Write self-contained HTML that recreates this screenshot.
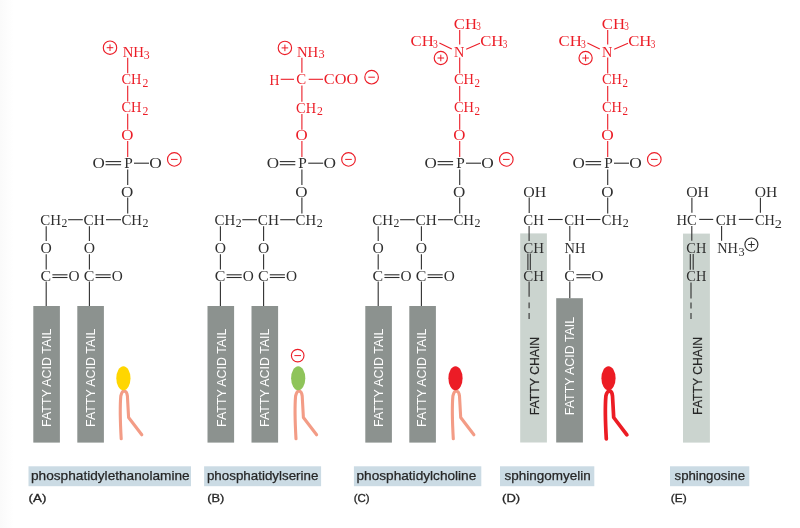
<!DOCTYPE html>
<html><head><meta charset="utf-8"><style>
html,body{margin:0;padding:0;background:#ffffff;}
svg{display:block;will-change:transform;}
</style></head><body>
<svg width="800" height="528" viewBox="0 0 800 528">
<defs><linearGradient id="lg" x1="0" x2="1" y1="0" y2="0"><stop offset="0" stop-color="#fafafa"/><stop offset="1" stop-color="#ffffff"/></linearGradient></defs>
<rect x="0" y="0" width="800" height="528" fill="#ffffff"/>
<rect x="0" y="0" width="14" height="528" fill="url(#lg)"/>
<circle cx="110.00" cy="47.70" r="6.7" fill="none" stroke="#ec1d27" stroke-width="1.15"/>
<line x1="106.70" y1="47.70" x2="113.30" y2="47.70" stroke="#ec1d27" stroke-width="1.0"/>
<line x1="110.00" y1="44.40" x2="110.00" y2="51.00" stroke="#ec1d27" stroke-width="1.0"/>
<text x="122.67" y="56.80" font-family="Liberation Serif" font-size="14.97" fill="#ec1d27" textLength="21.36" lengthAdjust="spacingAndGlyphs" stroke="#fff" stroke-width="0">NH</text>
<text x="143.73" y="58.50" font-family="Liberation Serif" font-size="11.48" fill="#ec1d27" textLength="5.93" lengthAdjust="spacingAndGlyphs" stroke="#fff" stroke-width="0">3</text>
<line x1="127.70" y1="57.70" x2="127.70" y2="73.30" stroke="#ec1d27" stroke-width="1.1"/>
<text x="121.51" y="84.20" font-family="Liberation Serif" font-size="14.97" fill="#ec1d27" textLength="20.01" lengthAdjust="spacingAndGlyphs" stroke="#fff" stroke-width="0">CH</text>
<text x="142.48" y="87.00" font-family="Liberation Serif" font-size="11.48" fill="#ec1d27" textLength="5.86" lengthAdjust="spacingAndGlyphs" stroke="#fff" stroke-width="0">2</text>
<line x1="127.70" y1="85.80" x2="127.70" y2="101.50" stroke="#ec1d27" stroke-width="1.1"/>
<text x="121.51" y="112.20" font-family="Liberation Serif" font-size="14.97" fill="#ec1d27" textLength="20.01" lengthAdjust="spacingAndGlyphs" stroke="#fff" stroke-width="0">CH</text>
<text x="142.48" y="115.00" font-family="Liberation Serif" font-size="11.48" fill="#ec1d27" textLength="5.86" lengthAdjust="spacingAndGlyphs" stroke="#fff" stroke-width="0">2</text>
<line x1="127.70" y1="113.80" x2="127.70" y2="129.80" stroke="#ec1d27" stroke-width="1.1"/>
<text x="121.21" y="140.40" font-family="Liberation Serif" font-size="14.97" fill="#ec1d27" textLength="12.18" lengthAdjust="spacingAndGlyphs" stroke="#fff" stroke-width="0">O</text>
<line x1="127.70" y1="141.00" x2="127.70" y2="157.00" stroke="#ec1d27" stroke-width="1.1"/>
<text x="92.60" y="167.90" font-family="Liberation Serif" font-size="14.97" fill="#2f2f2f" textLength="12.30" lengthAdjust="spacingAndGlyphs" stroke="#fff" stroke-width="0">O</text>
<line x1="105.60" y1="161.60" x2="121.10" y2="161.60" stroke="#2f2f2f" stroke-width="1.1"/>
<line x1="105.60" y1="164.70" x2="121.10" y2="164.70" stroke="#2f2f2f" stroke-width="1.1"/>
<text x="124.16" y="168.10" font-family="Liberation Serif" font-size="14.97" fill="#2f2f2f" textLength="8.56" lengthAdjust="spacingAndGlyphs" stroke="#fff" stroke-width="0">P</text>
<line x1="134.00" y1="163.20" x2="149.00" y2="163.20" stroke="#2f2f2f" stroke-width="1.1"/>
<text x="149.29" y="167.90" font-family="Liberation Serif" font-size="14.97" fill="#2f2f2f" textLength="12.52" lengthAdjust="spacingAndGlyphs" stroke="#fff" stroke-width="0">O</text>
<circle cx="174.30" cy="159.40" r="6.8" fill="none" stroke="#ec1d27" stroke-width="1.15"/>
<line x1="171.00" y1="159.40" x2="177.60" y2="159.40" stroke="#ec1d27" stroke-width="1.0"/>
<line x1="127.70" y1="169.40" x2="127.70" y2="185.00" stroke="#2f2f2f" stroke-width="1.1"/>
<text x="121.00" y="196.50" font-family="Liberation Serif" font-size="14.97" fill="#2f2f2f" textLength="12.30" lengthAdjust="spacingAndGlyphs" stroke="#fff" stroke-width="0">O</text>
<line x1="127.70" y1="197.60" x2="127.70" y2="213.50" stroke="#2f2f2f" stroke-width="1.1"/>
<text x="40.29" y="224.80" font-family="Liberation Serif" font-size="14.97" fill="#2f2f2f" textLength="20.75" lengthAdjust="spacingAndGlyphs" stroke="#fff" stroke-width="0">CH</text>
<text x="61.48" y="226.80" font-family="Liberation Serif" font-size="11.48" fill="#2f2f2f" textLength="5.86" lengthAdjust="spacingAndGlyphs" stroke="#fff" stroke-width="0">2</text>
<line x1="68.10" y1="219.70" x2="82.80" y2="219.70" stroke="#2f2f2f" stroke-width="1.1"/>
<text x="83.57" y="224.80" font-family="Liberation Serif" font-size="14.97" fill="#2f2f2f" textLength="21.17" lengthAdjust="spacingAndGlyphs" stroke="#fff" stroke-width="0">CH</text>
<line x1="106.00" y1="219.70" x2="121.00" y2="219.70" stroke="#2f2f2f" stroke-width="1.1"/>
<text x="121.39" y="224.80" font-family="Liberation Serif" font-size="14.97" fill="#2f2f2f" textLength="20.54" lengthAdjust="spacingAndGlyphs" stroke="#fff" stroke-width="0">CH</text>
<text x="142.47" y="226.80" font-family="Liberation Serif" font-size="11.48" fill="#2f2f2f" textLength="5.99" lengthAdjust="spacingAndGlyphs" stroke="#fff" stroke-width="0">2</text>
<line x1="46.20" y1="226.30" x2="46.20" y2="241.00" stroke="#2f2f2f" stroke-width="1.1"/>
<text x="40.56" y="252.80" font-family="Liberation Serif" font-size="14.97" fill="#2f2f2f" textLength="11.28" lengthAdjust="spacingAndGlyphs" stroke="#fff" stroke-width="0">O</text>
<line x1="46.20" y1="254.20" x2="46.20" y2="269.50" stroke="#2f2f2f" stroke-width="1.1"/>
<text x="40.55" y="280.90" font-family="Liberation Serif" font-size="14.97" fill="#2f2f2f" textLength="10.63" lengthAdjust="spacingAndGlyphs" stroke="#fff" stroke-width="0">C</text>
<line x1="52.40" y1="274.80" x2="67.50" y2="274.80" stroke="#2f2f2f" stroke-width="1.1"/>
<line x1="52.40" y1="277.50" x2="67.50" y2="277.50" stroke="#2f2f2f" stroke-width="1.1"/>
<text x="68.57" y="280.80" font-family="Liberation Serif" font-size="14.97" fill="#2f2f2f" textLength="11.06" lengthAdjust="spacingAndGlyphs" stroke="#fff" stroke-width="0">O</text>
<line x1="46.20" y1="281.60" x2="46.20" y2="306.50" stroke="#2f2f2f" stroke-width="1.1"/>
<line x1="89.40" y1="226.30" x2="89.40" y2="241.00" stroke="#2f2f2f" stroke-width="1.1"/>
<text x="83.76" y="252.80" font-family="Liberation Serif" font-size="14.97" fill="#2f2f2f" textLength="11.28" lengthAdjust="spacingAndGlyphs" stroke="#fff" stroke-width="0">O</text>
<line x1="89.40" y1="254.20" x2="89.40" y2="269.50" stroke="#2f2f2f" stroke-width="1.1"/>
<text x="83.75" y="280.90" font-family="Liberation Serif" font-size="14.97" fill="#2f2f2f" textLength="10.63" lengthAdjust="spacingAndGlyphs" stroke="#fff" stroke-width="0">C</text>
<line x1="95.60" y1="274.80" x2="110.70" y2="274.80" stroke="#2f2f2f" stroke-width="1.1"/>
<line x1="95.60" y1="277.50" x2="110.70" y2="277.50" stroke="#2f2f2f" stroke-width="1.1"/>
<text x="111.77" y="280.80" font-family="Liberation Serif" font-size="14.97" fill="#2f2f2f" textLength="11.06" lengthAdjust="spacingAndGlyphs" stroke="#fff" stroke-width="0">O</text>
<line x1="89.40" y1="281.60" x2="89.40" y2="306.50" stroke="#2f2f2f" stroke-width="1.1"/>
<rect x="33.30" y="306.00" width="26.60" height="136.60" fill="#8c928f"/>
<text transform="translate(51.40,426.88) rotate(-90)" x="0" y="0" font-family="Liberation Sans" font-size="12.94" fill="#ffffff" stroke="#ffffff" stroke-width="0" textLength="98.28" lengthAdjust="spacingAndGlyphs">FATTY ACID TAIL</text>
<rect x="77.30" y="306.00" width="26.60" height="136.60" fill="#8c928f"/>
<text transform="translate(95.00,426.88) rotate(-90)" x="0" y="0" font-family="Liberation Sans" font-size="12.94" fill="#ffffff" stroke="#ffffff" stroke-width="0" textLength="98.28" lengthAdjust="spacingAndGlyphs">FATTY ACID TAIL</text>
<path d="M121.20,438.8 C120.40,425 120.00,405 120.80,396 Q122.20,390.6 124.40,390.9 Q127.00,391.4 127.40,396 L128.60,417.5 L141.80,434.8" fill="none" stroke="#f39c86" stroke-width="3.1" stroke-linecap="round" stroke-linejoin="round"/>
<ellipse cx="123.40" cy="378.30" rx="7.1" ry="12.0" fill="#ffd600"/>
<circle cx="284.90" cy="47.90" r="6.7" fill="none" stroke="#ec1d27" stroke-width="1.15"/>
<line x1="281.60" y1="47.90" x2="288.20" y2="47.90" stroke="#ec1d27" stroke-width="1.0"/>
<line x1="284.90" y1="44.60" x2="284.90" y2="51.20" stroke="#ec1d27" stroke-width="1.0"/>
<text x="296.98" y="56.70" font-family="Liberation Serif" font-size="14.97" fill="#ec1d27" textLength="21.26" lengthAdjust="spacingAndGlyphs" stroke="#fff" stroke-width="0">NH</text>
<text x="318.41" y="58.30" font-family="Liberation Serif" font-size="11.48" fill="#ec1d27" textLength="6.17" lengthAdjust="spacingAndGlyphs" stroke="#fff" stroke-width="0">3</text>
<line x1="301.90" y1="57.70" x2="301.90" y2="72.80" stroke="#ec1d27" stroke-width="1.1"/>
<text x="269.41" y="84.60" font-family="Liberation Serif" font-size="14.97" fill="#ec1d27" textLength="9.90" lengthAdjust="spacingAndGlyphs" stroke="#fff" stroke-width="0">H</text>
<line x1="280.70" y1="79.30" x2="294.00" y2="79.30" stroke="#ec1d27" stroke-width="1.1"/>
<text x="296.19" y="84.40" font-family="Liberation Serif" font-size="14.97" fill="#ec1d27" textLength="9.93" lengthAdjust="spacingAndGlyphs" stroke="#fff" stroke-width="0">C</text>
<line x1="308.70" y1="79.30" x2="323.00" y2="79.30" stroke="#ec1d27" stroke-width="1.1"/>
<text x="323.83" y="84.20" font-family="Liberation Serif" font-size="14.97" fill="#ec1d27" textLength="34.33" lengthAdjust="spacingAndGlyphs" stroke="#fff" stroke-width="0">COO</text>
<circle cx="371.60" cy="77.20" r="6.8" fill="none" stroke="#ec1d27" stroke-width="1.15"/>
<line x1="368.30" y1="77.20" x2="374.90" y2="77.20" stroke="#ec1d27" stroke-width="1.0"/>
<line x1="301.90" y1="85.60" x2="301.90" y2="101.80" stroke="#ec1d27" stroke-width="1.1"/>
<text x="296.11" y="112.80" font-family="Liberation Serif" font-size="14.97" fill="#ec1d27" textLength="20.01" lengthAdjust="spacingAndGlyphs" stroke="#fff" stroke-width="0">CH</text>
<text x="317.08" y="115.00" font-family="Liberation Serif" font-size="11.48" fill="#ec1d27" textLength="5.86" lengthAdjust="spacingAndGlyphs" stroke="#fff" stroke-width="0">2</text>
<line x1="301.90" y1="114.00" x2="301.90" y2="129.80" stroke="#ec1d27" stroke-width="1.1"/>
<text x="295.41" y="140.40" font-family="Liberation Serif" font-size="14.97" fill="#ec1d27" textLength="12.18" lengthAdjust="spacingAndGlyphs" stroke="#fff" stroke-width="0">O</text>
<line x1="301.90" y1="141.00" x2="301.90" y2="157.00" stroke="#ec1d27" stroke-width="1.1"/>
<text x="266.80" y="167.90" font-family="Liberation Serif" font-size="14.97" fill="#2f2f2f" textLength="12.30" lengthAdjust="spacingAndGlyphs" stroke="#fff" stroke-width="0">O</text>
<line x1="279.80" y1="161.60" x2="295.30" y2="161.60" stroke="#2f2f2f" stroke-width="1.1"/>
<line x1="279.80" y1="164.70" x2="295.30" y2="164.70" stroke="#2f2f2f" stroke-width="1.1"/>
<text x="298.36" y="168.10" font-family="Liberation Serif" font-size="14.97" fill="#2f2f2f" textLength="8.56" lengthAdjust="spacingAndGlyphs" stroke="#fff" stroke-width="0">P</text>
<line x1="308.20" y1="163.20" x2="323.20" y2="163.20" stroke="#2f2f2f" stroke-width="1.1"/>
<text x="323.49" y="167.90" font-family="Liberation Serif" font-size="14.97" fill="#2f2f2f" textLength="12.52" lengthAdjust="spacingAndGlyphs" stroke="#fff" stroke-width="0">O</text>
<circle cx="348.50" cy="159.40" r="6.8" fill="none" stroke="#ec1d27" stroke-width="1.15"/>
<line x1="345.20" y1="159.40" x2="351.80" y2="159.40" stroke="#ec1d27" stroke-width="1.0"/>
<line x1="301.90" y1="169.40" x2="301.90" y2="185.00" stroke="#2f2f2f" stroke-width="1.1"/>
<text x="295.20" y="196.50" font-family="Liberation Serif" font-size="14.97" fill="#2f2f2f" textLength="12.30" lengthAdjust="spacingAndGlyphs" stroke="#fff" stroke-width="0">O</text>
<line x1="301.90" y1="197.60" x2="301.90" y2="213.50" stroke="#2f2f2f" stroke-width="1.1"/>
<text x="214.49" y="224.80" font-family="Liberation Serif" font-size="14.97" fill="#2f2f2f" textLength="20.75" lengthAdjust="spacingAndGlyphs" stroke="#fff" stroke-width="0">CH</text>
<text x="235.68" y="226.80" font-family="Liberation Serif" font-size="11.48" fill="#2f2f2f" textLength="5.86" lengthAdjust="spacingAndGlyphs" stroke="#fff" stroke-width="0">2</text>
<line x1="242.30" y1="219.70" x2="257.00" y2="219.70" stroke="#2f2f2f" stroke-width="1.1"/>
<text x="257.77" y="224.80" font-family="Liberation Serif" font-size="14.97" fill="#2f2f2f" textLength="21.17" lengthAdjust="spacingAndGlyphs" stroke="#fff" stroke-width="0">CH</text>
<line x1="280.20" y1="219.70" x2="295.20" y2="219.70" stroke="#2f2f2f" stroke-width="1.1"/>
<text x="295.59" y="224.80" font-family="Liberation Serif" font-size="14.97" fill="#2f2f2f" textLength="20.54" lengthAdjust="spacingAndGlyphs" stroke="#fff" stroke-width="0">CH</text>
<text x="316.67" y="226.80" font-family="Liberation Serif" font-size="11.48" fill="#2f2f2f" textLength="5.99" lengthAdjust="spacingAndGlyphs" stroke="#fff" stroke-width="0">2</text>
<line x1="220.40" y1="226.30" x2="220.40" y2="241.00" stroke="#2f2f2f" stroke-width="1.1"/>
<text x="214.76" y="252.80" font-family="Liberation Serif" font-size="14.97" fill="#2f2f2f" textLength="11.28" lengthAdjust="spacingAndGlyphs" stroke="#fff" stroke-width="0">O</text>
<line x1="220.40" y1="254.20" x2="220.40" y2="269.50" stroke="#2f2f2f" stroke-width="1.1"/>
<text x="214.75" y="280.90" font-family="Liberation Serif" font-size="14.97" fill="#2f2f2f" textLength="10.63" lengthAdjust="spacingAndGlyphs" stroke="#fff" stroke-width="0">C</text>
<line x1="226.60" y1="274.80" x2="241.70" y2="274.80" stroke="#2f2f2f" stroke-width="1.1"/>
<line x1="226.60" y1="277.50" x2="241.70" y2="277.50" stroke="#2f2f2f" stroke-width="1.1"/>
<text x="242.77" y="280.80" font-family="Liberation Serif" font-size="14.97" fill="#2f2f2f" textLength="11.06" lengthAdjust="spacingAndGlyphs" stroke="#fff" stroke-width="0">O</text>
<line x1="220.40" y1="281.60" x2="220.40" y2="306.50" stroke="#2f2f2f" stroke-width="1.1"/>
<line x1="263.60" y1="226.30" x2="263.60" y2="241.00" stroke="#2f2f2f" stroke-width="1.1"/>
<text x="257.96" y="252.80" font-family="Liberation Serif" font-size="14.97" fill="#2f2f2f" textLength="11.28" lengthAdjust="spacingAndGlyphs" stroke="#fff" stroke-width="0">O</text>
<line x1="263.60" y1="254.20" x2="263.60" y2="269.50" stroke="#2f2f2f" stroke-width="1.1"/>
<text x="257.95" y="280.90" font-family="Liberation Serif" font-size="14.97" fill="#2f2f2f" textLength="10.63" lengthAdjust="spacingAndGlyphs" stroke="#fff" stroke-width="0">C</text>
<line x1="269.80" y1="274.80" x2="284.90" y2="274.80" stroke="#2f2f2f" stroke-width="1.1"/>
<line x1="269.80" y1="277.50" x2="284.90" y2="277.50" stroke="#2f2f2f" stroke-width="1.1"/>
<text x="285.97" y="280.80" font-family="Liberation Serif" font-size="14.97" fill="#2f2f2f" textLength="11.06" lengthAdjust="spacingAndGlyphs" stroke="#fff" stroke-width="0">O</text>
<line x1="263.60" y1="281.60" x2="263.60" y2="306.50" stroke="#2f2f2f" stroke-width="1.1"/>
<rect x="207.50" y="306.00" width="26.60" height="136.60" fill="#8c928f"/>
<text transform="translate(225.60,426.88) rotate(-90)" x="0" y="0" font-family="Liberation Sans" font-size="12.94" fill="#ffffff" stroke="#ffffff" stroke-width="0" textLength="98.28" lengthAdjust="spacingAndGlyphs">FATTY ACID TAIL</text>
<rect x="251.50" y="306.00" width="26.60" height="136.60" fill="#8c928f"/>
<text transform="translate(269.20,426.88) rotate(-90)" x="0" y="0" font-family="Liberation Sans" font-size="12.94" fill="#ffffff" stroke="#ffffff" stroke-width="0" textLength="98.28" lengthAdjust="spacingAndGlyphs">FATTY ACID TAIL</text>
<circle cx="297.70" cy="355.60" r="6.3" fill="none" stroke="#ec1d27" stroke-width="1.15"/>
<line x1="294.40" y1="355.60" x2="301.00" y2="355.60" stroke="#ec1d27" stroke-width="1.0"/>
<path d="M296.00,438.8 C295.20,425 294.80,405 295.60,396 Q297.00,390.6 299.20,390.9 Q301.80,391.4 302.20,396 L303.40,417.5 L316.60,434.8" fill="none" stroke="#f39c86" stroke-width="3.1" stroke-linecap="round" stroke-linejoin="round"/>
<ellipse cx="298.20" cy="378.30" rx="7.1" ry="12.0" fill="#8fc45a"/>
<text x="453.82" y="28.70" font-family="Liberation Serif" font-size="14.97" fill="#ec1d27" textLength="23.17" lengthAdjust="spacingAndGlyphs" stroke="#fff" stroke-width="0">CH</text>
<text x="476.36" y="30.00" font-family="Liberation Serif" font-size="11.48" fill="#ec1d27" textLength="4.60" lengthAdjust="spacingAndGlyphs" stroke="#fff" stroke-width="0">3</text>
<line x1="459.70" y1="30.00" x2="459.70" y2="44.50" stroke="#ec1d27" stroke-width="1.1"/>
<text x="410.52" y="45.70" font-family="Liberation Serif" font-size="14.97" fill="#ec1d27" textLength="23.17" lengthAdjust="spacingAndGlyphs" stroke="#fff" stroke-width="0">CH</text>
<text x="432.94" y="47.60" font-family="Liberation Serif" font-size="11.48" fill="#ec1d27" textLength="4.84" lengthAdjust="spacingAndGlyphs" stroke="#fff" stroke-width="0">3</text>
<line x1="439.40" y1="43.00" x2="451.80" y2="48.90" stroke="#ec1d27" stroke-width="1.1"/>
<text x="454.09" y="56.70" font-family="Liberation Serif" font-size="14.97" fill="#ec1d27" textLength="10.34" lengthAdjust="spacingAndGlyphs" stroke="#fff" stroke-width="0">N</text>
<line x1="466.20" y1="49.20" x2="480.00" y2="43.30" stroke="#ec1d27" stroke-width="1.1"/>
<text x="480.22" y="45.70" font-family="Liberation Serif" font-size="14.97" fill="#ec1d27" textLength="23.17" lengthAdjust="spacingAndGlyphs" stroke="#fff" stroke-width="0">CH</text>
<text x="502.76" y="47.60" font-family="Liberation Serif" font-size="11.48" fill="#ec1d27" textLength="4.60" lengthAdjust="spacingAndGlyphs" stroke="#fff" stroke-width="0">3</text>
<circle cx="440.80" cy="58.00" r="6.6" fill="none" stroke="#ec1d27" stroke-width="1.15"/>
<line x1="437.50" y1="58.00" x2="444.10" y2="58.00" stroke="#ec1d27" stroke-width="1.0"/>
<line x1="440.80" y1="54.70" x2="440.80" y2="61.30" stroke="#ec1d27" stroke-width="1.0"/>
<line x1="459.70" y1="57.50" x2="459.70" y2="73.50" stroke="#ec1d27" stroke-width="1.1"/>
<text x="454.01" y="84.40" font-family="Liberation Serif" font-size="14.97" fill="#ec1d27" textLength="20.01" lengthAdjust="spacingAndGlyphs" stroke="#fff" stroke-width="0">CH</text>
<text x="474.52" y="87.20" font-family="Liberation Serif" font-size="11.48" fill="#ec1d27" textLength="5.49" lengthAdjust="spacingAndGlyphs" stroke="#fff" stroke-width="0">2</text>
<line x1="459.70" y1="86.00" x2="459.70" y2="101.50" stroke="#ec1d27" stroke-width="1.1"/>
<text x="454.01" y="112.40" font-family="Liberation Serif" font-size="14.97" fill="#ec1d27" textLength="20.01" lengthAdjust="spacingAndGlyphs" stroke="#fff" stroke-width="0">CH</text>
<text x="474.52" y="115.20" font-family="Liberation Serif" font-size="11.48" fill="#ec1d27" textLength="5.49" lengthAdjust="spacingAndGlyphs" stroke="#fff" stroke-width="0">2</text>
<line x1="459.70" y1="114.00" x2="459.70" y2="129.80" stroke="#ec1d27" stroke-width="1.1"/>
<text x="453.21" y="140.40" font-family="Liberation Serif" font-size="14.97" fill="#ec1d27" textLength="12.18" lengthAdjust="spacingAndGlyphs" stroke="#fff" stroke-width="0">O</text>
<line x1="459.70" y1="141.00" x2="459.70" y2="157.00" stroke="#ec1d27" stroke-width="1.1"/>
<text x="424.60" y="167.90" font-family="Liberation Serif" font-size="14.97" fill="#2f2f2f" textLength="12.30" lengthAdjust="spacingAndGlyphs" stroke="#fff" stroke-width="0">O</text>
<line x1="437.60" y1="161.60" x2="453.10" y2="161.60" stroke="#2f2f2f" stroke-width="1.1"/>
<line x1="437.60" y1="164.70" x2="453.10" y2="164.70" stroke="#2f2f2f" stroke-width="1.1"/>
<text x="456.16" y="168.10" font-family="Liberation Serif" font-size="14.97" fill="#2f2f2f" textLength="8.56" lengthAdjust="spacingAndGlyphs" stroke="#fff" stroke-width="0">P</text>
<line x1="466.00" y1="163.20" x2="481.00" y2="163.20" stroke="#2f2f2f" stroke-width="1.1"/>
<text x="481.29" y="167.90" font-family="Liberation Serif" font-size="14.97" fill="#2f2f2f" textLength="12.52" lengthAdjust="spacingAndGlyphs" stroke="#fff" stroke-width="0">O</text>
<circle cx="506.30" cy="159.40" r="6.8" fill="none" stroke="#ec1d27" stroke-width="1.15"/>
<line x1="503.00" y1="159.40" x2="509.60" y2="159.40" stroke="#ec1d27" stroke-width="1.0"/>
<line x1="459.70" y1="169.40" x2="459.70" y2="185.00" stroke="#2f2f2f" stroke-width="1.1"/>
<text x="453.00" y="196.50" font-family="Liberation Serif" font-size="14.97" fill="#2f2f2f" textLength="12.30" lengthAdjust="spacingAndGlyphs" stroke="#fff" stroke-width="0">O</text>
<line x1="459.70" y1="197.60" x2="459.70" y2="213.50" stroke="#2f2f2f" stroke-width="1.1"/>
<text x="372.29" y="224.80" font-family="Liberation Serif" font-size="14.97" fill="#2f2f2f" textLength="20.75" lengthAdjust="spacingAndGlyphs" stroke="#fff" stroke-width="0">CH</text>
<text x="393.48" y="226.80" font-family="Liberation Serif" font-size="11.48" fill="#2f2f2f" textLength="5.86" lengthAdjust="spacingAndGlyphs" stroke="#fff" stroke-width="0">2</text>
<line x1="400.10" y1="219.70" x2="414.80" y2="219.70" stroke="#2f2f2f" stroke-width="1.1"/>
<text x="415.57" y="224.80" font-family="Liberation Serif" font-size="14.97" fill="#2f2f2f" textLength="21.17" lengthAdjust="spacingAndGlyphs" stroke="#fff" stroke-width="0">CH</text>
<line x1="438.00" y1="219.70" x2="453.00" y2="219.70" stroke="#2f2f2f" stroke-width="1.1"/>
<text x="453.39" y="224.80" font-family="Liberation Serif" font-size="14.97" fill="#2f2f2f" textLength="20.54" lengthAdjust="spacingAndGlyphs" stroke="#fff" stroke-width="0">CH</text>
<text x="474.47" y="226.80" font-family="Liberation Serif" font-size="11.48" fill="#2f2f2f" textLength="5.99" lengthAdjust="spacingAndGlyphs" stroke="#fff" stroke-width="0">2</text>
<line x1="378.20" y1="226.30" x2="378.20" y2="241.00" stroke="#2f2f2f" stroke-width="1.1"/>
<text x="372.56" y="252.80" font-family="Liberation Serif" font-size="14.97" fill="#2f2f2f" textLength="11.28" lengthAdjust="spacingAndGlyphs" stroke="#fff" stroke-width="0">O</text>
<line x1="378.20" y1="254.20" x2="378.20" y2="269.50" stroke="#2f2f2f" stroke-width="1.1"/>
<text x="372.55" y="280.90" font-family="Liberation Serif" font-size="14.97" fill="#2f2f2f" textLength="10.63" lengthAdjust="spacingAndGlyphs" stroke="#fff" stroke-width="0">C</text>
<line x1="384.40" y1="274.80" x2="399.50" y2="274.80" stroke="#2f2f2f" stroke-width="1.1"/>
<line x1="384.40" y1="277.50" x2="399.50" y2="277.50" stroke="#2f2f2f" stroke-width="1.1"/>
<text x="400.57" y="280.80" font-family="Liberation Serif" font-size="14.97" fill="#2f2f2f" textLength="11.06" lengthAdjust="spacingAndGlyphs" stroke="#fff" stroke-width="0">O</text>
<line x1="378.20" y1="281.60" x2="378.20" y2="306.50" stroke="#2f2f2f" stroke-width="1.1"/>
<line x1="421.40" y1="226.30" x2="421.40" y2="241.00" stroke="#2f2f2f" stroke-width="1.1"/>
<text x="415.76" y="252.80" font-family="Liberation Serif" font-size="14.97" fill="#2f2f2f" textLength="11.28" lengthAdjust="spacingAndGlyphs" stroke="#fff" stroke-width="0">O</text>
<line x1="421.40" y1="254.20" x2="421.40" y2="269.50" stroke="#2f2f2f" stroke-width="1.1"/>
<text x="415.75" y="280.90" font-family="Liberation Serif" font-size="14.97" fill="#2f2f2f" textLength="10.63" lengthAdjust="spacingAndGlyphs" stroke="#fff" stroke-width="0">C</text>
<line x1="427.60" y1="274.80" x2="442.70" y2="274.80" stroke="#2f2f2f" stroke-width="1.1"/>
<line x1="427.60" y1="277.50" x2="442.70" y2="277.50" stroke="#2f2f2f" stroke-width="1.1"/>
<text x="443.77" y="280.80" font-family="Liberation Serif" font-size="14.97" fill="#2f2f2f" textLength="11.06" lengthAdjust="spacingAndGlyphs" stroke="#fff" stroke-width="0">O</text>
<line x1="421.40" y1="281.60" x2="421.40" y2="306.50" stroke="#2f2f2f" stroke-width="1.1"/>
<rect x="365.30" y="306.00" width="26.60" height="136.60" fill="#8c928f"/>
<text transform="translate(383.40,426.88) rotate(-90)" x="0" y="0" font-family="Liberation Sans" font-size="12.79" fill="#ffffff" stroke="#ffffff" stroke-width="0" textLength="98.28" lengthAdjust="spacingAndGlyphs">FATTY ACID TAIL</text>
<rect x="409.30" y="306.00" width="26.60" height="136.60" fill="#8c928f"/>
<text transform="translate(425.70,426.88) rotate(-90)" x="0" y="0" font-family="Liberation Sans" font-size="12.79" fill="#ffffff" stroke="#ffffff" stroke-width="0" textLength="98.28" lengthAdjust="spacingAndGlyphs">FATTY ACID TAIL</text>
<path d="M453.30,438.8 C452.50,425 452.10,405 452.90,396 Q454.30,390.6 456.50,390.9 Q459.10,391.4 459.50,396 L460.70,417.5 L473.90,434.8" fill="none" stroke="#f39c86" stroke-width="3.1" stroke-linecap="round" stroke-linejoin="round"/>
<ellipse cx="455.50" cy="378.30" rx="7.1" ry="12.0" fill="#ec1c26"/>
<text x="601.82" y="28.70" font-family="Liberation Serif" font-size="14.97" fill="#ec1d27" textLength="23.17" lengthAdjust="spacingAndGlyphs" stroke="#fff" stroke-width="0">CH</text>
<text x="624.36" y="30.00" font-family="Liberation Serif" font-size="11.48" fill="#ec1d27" textLength="4.60" lengthAdjust="spacingAndGlyphs" stroke="#fff" stroke-width="0">3</text>
<line x1="607.70" y1="30.00" x2="607.70" y2="44.50" stroke="#ec1d27" stroke-width="1.1"/>
<text x="558.52" y="45.70" font-family="Liberation Serif" font-size="14.97" fill="#ec1d27" textLength="23.17" lengthAdjust="spacingAndGlyphs" stroke="#fff" stroke-width="0">CH</text>
<text x="580.94" y="47.60" font-family="Liberation Serif" font-size="11.48" fill="#ec1d27" textLength="4.84" lengthAdjust="spacingAndGlyphs" stroke="#fff" stroke-width="0">3</text>
<line x1="587.40" y1="43.00" x2="599.80" y2="48.90" stroke="#ec1d27" stroke-width="1.1"/>
<text x="602.09" y="56.70" font-family="Liberation Serif" font-size="14.97" fill="#ec1d27" textLength="10.34" lengthAdjust="spacingAndGlyphs" stroke="#fff" stroke-width="0">N</text>
<line x1="614.20" y1="49.20" x2="628.00" y2="43.30" stroke="#ec1d27" stroke-width="1.1"/>
<text x="628.22" y="45.70" font-family="Liberation Serif" font-size="14.97" fill="#ec1d27" textLength="23.17" lengthAdjust="spacingAndGlyphs" stroke="#fff" stroke-width="0">CH</text>
<text x="650.76" y="47.60" font-family="Liberation Serif" font-size="11.48" fill="#ec1d27" textLength="4.60" lengthAdjust="spacingAndGlyphs" stroke="#fff" stroke-width="0">3</text>
<circle cx="585.60" cy="58.00" r="6.6" fill="none" stroke="#ec1d27" stroke-width="1.15"/>
<line x1="582.30" y1="58.00" x2="588.90" y2="58.00" stroke="#ec1d27" stroke-width="1.0"/>
<line x1="585.60" y1="54.70" x2="585.60" y2="61.30" stroke="#ec1d27" stroke-width="1.0"/>
<line x1="607.70" y1="57.50" x2="607.70" y2="73.50" stroke="#ec1d27" stroke-width="1.1"/>
<text x="602.01" y="84.40" font-family="Liberation Serif" font-size="14.97" fill="#ec1d27" textLength="20.01" lengthAdjust="spacingAndGlyphs" stroke="#fff" stroke-width="0">CH</text>
<text x="622.52" y="87.20" font-family="Liberation Serif" font-size="11.48" fill="#ec1d27" textLength="5.49" lengthAdjust="spacingAndGlyphs" stroke="#fff" stroke-width="0">2</text>
<line x1="607.70" y1="86.00" x2="607.70" y2="101.50" stroke="#ec1d27" stroke-width="1.1"/>
<text x="602.01" y="112.40" font-family="Liberation Serif" font-size="14.97" fill="#ec1d27" textLength="20.01" lengthAdjust="spacingAndGlyphs" stroke="#fff" stroke-width="0">CH</text>
<text x="622.52" y="115.20" font-family="Liberation Serif" font-size="11.48" fill="#ec1d27" textLength="5.49" lengthAdjust="spacingAndGlyphs" stroke="#fff" stroke-width="0">2</text>
<line x1="607.70" y1="114.00" x2="607.70" y2="129.80" stroke="#ec1d27" stroke-width="1.1"/>
<text x="601.39" y="140.40" font-family="Liberation Serif" font-size="14.97" fill="#ec1d27" textLength="12.52" lengthAdjust="spacingAndGlyphs" stroke="#fff" stroke-width="0">O</text>
<line x1="607.70" y1="141.00" x2="607.70" y2="157.00" stroke="#ec1d27" stroke-width="1.1"/>
<text x="572.60" y="167.90" font-family="Liberation Serif" font-size="14.97" fill="#2f2f2f" textLength="12.30" lengthAdjust="spacingAndGlyphs" stroke="#fff" stroke-width="0">O</text>
<line x1="585.60" y1="161.60" x2="601.10" y2="161.60" stroke="#2f2f2f" stroke-width="1.1"/>
<line x1="585.60" y1="164.70" x2="601.10" y2="164.70" stroke="#2f2f2f" stroke-width="1.1"/>
<text x="604.16" y="168.10" font-family="Liberation Serif" font-size="14.97" fill="#2f2f2f" textLength="8.56" lengthAdjust="spacingAndGlyphs" stroke="#fff" stroke-width="0">P</text>
<line x1="614.00" y1="163.20" x2="629.00" y2="163.20" stroke="#2f2f2f" stroke-width="1.1"/>
<text x="629.29" y="167.90" font-family="Liberation Serif" font-size="14.97" fill="#2f2f2f" textLength="12.52" lengthAdjust="spacingAndGlyphs" stroke="#fff" stroke-width="0">O</text>
<circle cx="654.30" cy="159.40" r="6.8" fill="none" stroke="#ec1d27" stroke-width="1.15"/>
<line x1="651.00" y1="159.40" x2="657.60" y2="159.40" stroke="#ec1d27" stroke-width="1.0"/>
<line x1="607.70" y1="169.40" x2="607.70" y2="185.00" stroke="#2f2f2f" stroke-width="1.1"/>
<text x="601.30" y="196.50" font-family="Liberation Serif" font-size="14.97" fill="#2f2f2f" textLength="12.30" lengthAdjust="spacingAndGlyphs" stroke="#fff" stroke-width="0">O</text>
<line x1="607.70" y1="197.60" x2="607.70" y2="213.50" stroke="#2f2f2f" stroke-width="1.1"/>
<rect x="520.20" y="233.40" width="26.70" height="209.10" fill="#cbd4cf"/>
<text x="523.25" y="196.80" font-family="Liberation Serif" font-size="14.97" fill="#2f2f2f" textLength="22.92" lengthAdjust="spacingAndGlyphs" stroke="#fff" stroke-width="0">OH</text>
<line x1="529.20" y1="197.60" x2="529.20" y2="213.00" stroke="#2f2f2f" stroke-width="1.1"/>
<text x="523.29" y="224.70" font-family="Liberation Serif" font-size="14.97" fill="#2f2f2f" textLength="20.54" lengthAdjust="spacingAndGlyphs" stroke="#fff" stroke-width="0">CH</text>
<line x1="548.00" y1="219.50" x2="562.70" y2="219.50" stroke="#2f2f2f" stroke-width="1.1"/>
<text x="564.19" y="224.70" font-family="Liberation Serif" font-size="14.97" fill="#2f2f2f" textLength="20.54" lengthAdjust="spacingAndGlyphs" stroke="#fff" stroke-width="0">CH</text>
<line x1="586.00" y1="219.50" x2="600.50" y2="219.50" stroke="#2f2f2f" stroke-width="1.1"/>
<text x="601.59" y="224.80" font-family="Liberation Serif" font-size="14.97" fill="#2f2f2f" textLength="20.54" lengthAdjust="spacingAndGlyphs" stroke="#fff" stroke-width="0">CH</text>
<text x="622.67" y="226.80" font-family="Liberation Serif" font-size="11.48" fill="#2f2f2f" textLength="5.99" lengthAdjust="spacingAndGlyphs" stroke="#fff" stroke-width="0">2</text>
<line x1="529.10" y1="226.00" x2="529.10" y2="241.00" stroke="#2f2f2f" stroke-width="1.1"/>
<text x="523.19" y="252.70" font-family="Liberation Serif" font-size="14.97" fill="#2f2f2f" textLength="20.75" lengthAdjust="spacingAndGlyphs" stroke="#cbd4cf" stroke-width="0">CH</text>
<line x1="527.90" y1="253.50" x2="527.90" y2="270.00" stroke="#2f2f2f" stroke-width="1.1"/>
<line x1="530.30" y1="253.50" x2="530.30" y2="270.00" stroke="#2f2f2f" stroke-width="1.1"/>
<text x="523.19" y="280.70" font-family="Liberation Serif" font-size="14.97" fill="#2f2f2f" textLength="20.75" lengthAdjust="spacingAndGlyphs" stroke="#cbd4cf" stroke-width="0">CH</text>
<line x1="529.10" y1="281.50" x2="529.10" y2="296.70" stroke="#2f2f2f" stroke-width="1.1"/>
<line x1="529.10" y1="302.40" x2="529.10" y2="308.20" stroke="#2f2f2f" stroke-width="1.1"/>
<line x1="529.10" y1="313.00" x2="529.10" y2="319.00" stroke="#2f2f2f" stroke-width="1.1"/>
<text transform="translate(538.90,415.18) rotate(-90)" x="0" y="0" font-family="Liberation Sans" font-size="12.94" fill="#262626" stroke="#262626" stroke-width="0.2" textLength="78.36" lengthAdjust="spacingAndGlyphs">FATTY CHAIN</text>
<line x1="569.80" y1="226.00" x2="569.80" y2="241.00" stroke="#2f2f2f" stroke-width="1.1"/>
<text x="564.58" y="252.70" font-family="Liberation Serif" font-size="14.97" fill="#2f2f2f" textLength="20.84" lengthAdjust="spacingAndGlyphs" stroke="#fff" stroke-width="0">NH</text>
<line x1="569.80" y1="254.20" x2="569.80" y2="270.20" stroke="#2f2f2f" stroke-width="1.1"/>
<text x="564.35" y="280.70" font-family="Liberation Serif" font-size="14.97" fill="#2f2f2f" textLength="10.63" lengthAdjust="spacingAndGlyphs" stroke="#fff" stroke-width="0">C</text>
<line x1="576.40" y1="274.70" x2="590.80" y2="274.70" stroke="#2f2f2f" stroke-width="1.1"/>
<line x1="576.40" y1="277.70" x2="590.80" y2="277.70" stroke="#2f2f2f" stroke-width="1.1"/>
<text x="591.30" y="280.70" font-family="Liberation Serif" font-size="14.97" fill="#2f2f2f" textLength="12.30" lengthAdjust="spacingAndGlyphs" stroke="#fff" stroke-width="0">O</text>
<line x1="569.80" y1="281.50" x2="569.80" y2="298.50" stroke="#2f2f2f" stroke-width="1.1"/>
<rect x="556.20" y="298.20" width="26.70" height="144.30" fill="#8c928f"/>
<text transform="translate(573.50,415.18) rotate(-90)" x="0" y="0" font-family="Liberation Sans" font-size="12.94" fill="#ffffff" stroke="#ffffff" stroke-width="0" textLength="98.38" lengthAdjust="spacingAndGlyphs">FATTY ACID TAIL</text>
<path d="M606.30,438.8 C605.50,425 605.10,405 605.90,396 Q607.30,390.6 609.50,390.9 Q612.10,391.4 612.50,396 L613.70,417.5 L626.90,434.8" fill="none" stroke="#ec1c24" stroke-width="3.7" stroke-linecap="round" stroke-linejoin="round"/>
<ellipse cx="608.50" cy="378.30" rx="7.1" ry="12.0" fill="#ec1c24"/>
<rect x="683.00" y="233.60" width="26.90" height="209.00" fill="#cbd4cf"/>
<text x="686.26" y="196.90" font-family="Liberation Serif" font-size="14.97" fill="#2f2f2f" textLength="22.71" lengthAdjust="spacingAndGlyphs" stroke="#fff" stroke-width="0">OH</text>
<line x1="691.90" y1="197.70" x2="691.90" y2="212.80" stroke="#2f2f2f" stroke-width="1.1"/>
<text x="676.38" y="225.00" font-family="Liberation Serif" font-size="14.97" fill="#2f2f2f" textLength="20.22" lengthAdjust="spacingAndGlyphs" stroke="#fff" stroke-width="0">HC</text>
<line x1="699.20" y1="219.40" x2="713.20" y2="219.40" stroke="#2f2f2f" stroke-width="1.1"/>
<text x="715.79" y="225.00" font-family="Liberation Serif" font-size="14.97" fill="#2f2f2f" textLength="20.75" lengthAdjust="spacingAndGlyphs" stroke="#fff" stroke-width="0">CH</text>
<line x1="738.80" y1="219.40" x2="753.40" y2="219.40" stroke="#2f2f2f" stroke-width="1.1"/>
<text x="754.92" y="224.60" font-family="Liberation Serif" font-size="14.97" fill="#2f2f2f" textLength="19.80" lengthAdjust="spacingAndGlyphs" stroke="#fff" stroke-width="0">CH</text>
<text x="774.68" y="227.90" font-family="Liberation Serif" font-size="11.48" fill="#2f2f2f" textLength="7.11" lengthAdjust="spacingAndGlyphs" stroke="#fff" stroke-width="0">2</text>
<text x="754.86" y="196.60" font-family="Liberation Serif" font-size="14.97" fill="#2f2f2f" textLength="22.50" lengthAdjust="spacingAndGlyphs" stroke="#fff" stroke-width="0">OH</text>
<line x1="760.40" y1="197.70" x2="760.40" y2="212.80" stroke="#2f2f2f" stroke-width="1.1"/>
<line x1="691.80" y1="226.00" x2="691.80" y2="240.80" stroke="#2f2f2f" stroke-width="1.1"/>
<text x="686.31" y="252.50" font-family="Liberation Serif" font-size="14.97" fill="#2f2f2f" textLength="20.01" lengthAdjust="spacingAndGlyphs" stroke="#cbd4cf" stroke-width="0">CH</text>
<line x1="690.30" y1="253.90" x2="690.30" y2="269.80" stroke="#2f2f2f" stroke-width="1.1"/>
<line x1="693.20" y1="253.90" x2="693.20" y2="269.80" stroke="#2f2f2f" stroke-width="1.1"/>
<text x="686.31" y="280.70" font-family="Liberation Serif" font-size="14.97" fill="#2f2f2f" textLength="20.01" lengthAdjust="spacingAndGlyphs" stroke="#cbd4cf" stroke-width="0">CH</text>
<line x1="691.00" y1="282.50" x2="691.00" y2="298.50" stroke="#2f2f2f" stroke-width="1.1"/>
<line x1="691.00" y1="302.40" x2="691.00" y2="308.40" stroke="#2f2f2f" stroke-width="1.1"/>
<line x1="691.00" y1="313.00" x2="691.00" y2="319.00" stroke="#2f2f2f" stroke-width="1.1"/>
<text transform="translate(701.80,414.88) rotate(-90)" x="0" y="0" font-family="Liberation Sans" font-size="12.94" fill="#262626" stroke="#262626" stroke-width="0.2" textLength="77.94" lengthAdjust="spacingAndGlyphs">FATTY CHAIN</text>
<line x1="721.60" y1="226.00" x2="721.60" y2="240.80" stroke="#2f2f2f" stroke-width="1.1"/>
<text x="717.19" y="252.50" font-family="Liberation Serif" font-size="14.97" fill="#2f2f2f" textLength="20.73" lengthAdjust="spacingAndGlyphs" stroke="#fff" stroke-width="0">NH</text>
<text x="738.61" y="255.50" font-family="Liberation Serif" font-size="11.48" fill="#2f2f2f" textLength="6.17" lengthAdjust="spacingAndGlyphs" stroke="#fff" stroke-width="0">3</text>
<circle cx="751.40" cy="244.50" r="6.5" fill="none" stroke="#2f2f2f" stroke-width="1.15"/>
<line x1="748.10" y1="244.50" x2="754.70" y2="244.50" stroke="#2f2f2f" stroke-width="1.0"/>
<line x1="751.40" y1="241.20" x2="751.40" y2="247.80" stroke="#2f2f2f" stroke-width="1.0"/>
<rect x="28.50" y="466.30" width="162.50" height="19.90" fill="#cbdbe4"/>
<text x="31.02" y="480.0" font-family="Liberation Sans" font-size="13.6" fill="#262626" stroke="#262626" stroke-width="0.25" textLength="158.59" lengthAdjust="spacingAndGlyphs">phosphatidylethanolamine</text>
<text x="28.57" y="501.6" font-family="Liberation Sans" font-size="10.8" fill="#262626" stroke="#262626" stroke-width="0.3" textLength="17.86" lengthAdjust="spacingAndGlyphs">(A)</text>
<rect x="204.10" y="466.30" width="117.00" height="19.90" fill="#cbdbe4"/>
<text x="206.94" y="480.0" font-family="Liberation Sans" font-size="13.6" fill="#262626" stroke="#262626" stroke-width="0.25" textLength="111.46" lengthAdjust="spacingAndGlyphs">phosphatidylserine</text>
<text x="207.30" y="501.6" font-family="Liberation Sans" font-size="10.8" fill="#262626" stroke="#262626" stroke-width="0.3" textLength="17.09" lengthAdjust="spacingAndGlyphs">(B)</text>
<rect x="353.90" y="466.30" width="127.40" height="19.90" fill="#cbdbe4"/>
<text x="356.52" y="480.0" font-family="Liberation Sans" font-size="13.6" fill="#262626" stroke="#262626" stroke-width="0.25" textLength="119.78" lengthAdjust="spacingAndGlyphs">phosphatidylcholine</text>
<text x="353.69" y="501.6" font-family="Liberation Sans" font-size="10.8" fill="#262626" stroke="#262626" stroke-width="0.3" textLength="15.92" lengthAdjust="spacingAndGlyphs">(C)</text>
<rect x="500.00" y="466.30" width="94.30" height="19.90" fill="#cbdbe4"/>
<text x="504.42" y="480.0" font-family="Liberation Sans" font-size="13.6" fill="#262626" stroke="#262626" stroke-width="0.25" textLength="86.25" lengthAdjust="spacingAndGlyphs">sphingomyelin</text>
<text x="502.10" y="501.6" font-family="Liberation Sans" font-size="10.8" fill="#262626" stroke="#262626" stroke-width="0.3" textLength="18.01" lengthAdjust="spacingAndGlyphs">(D)</text>
<rect x="670.00" y="466.30" width="79.30" height="19.90" fill="#cbdbe4"/>
<text x="674.53" y="480.0" font-family="Liberation Sans" font-size="13.6" fill="#262626" stroke="#262626" stroke-width="0.25" textLength="70.56" lengthAdjust="spacingAndGlyphs">sphingosine</text>
<text x="670.66" y="501.6" font-family="Liberation Sans" font-size="10.8" fill="#262626" stroke="#262626" stroke-width="0.3" textLength="15.99" lengthAdjust="spacingAndGlyphs">(E)</text>
</svg>
</body></html>
